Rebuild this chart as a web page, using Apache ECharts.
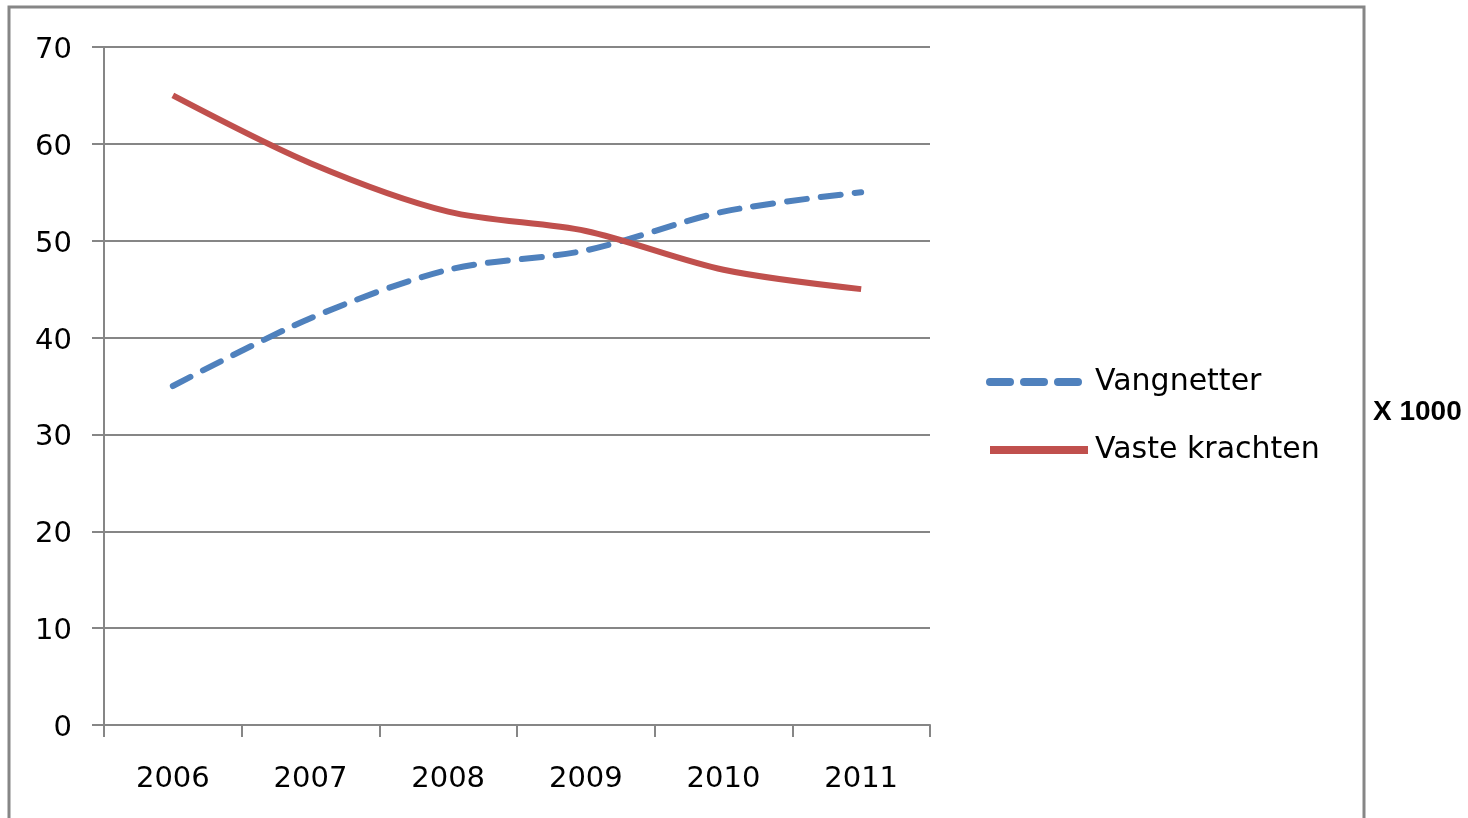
<!DOCTYPE html>
<html>
<head>
<meta charset="utf-8">
<script src="https://cdn.jsdelivr.net/npm/echarts@6/dist/echarts.min.js"></script>
<style>html,body{margin:0;padding:0;background:#fff;}#c{width:1468px;height:818px;}</style>
</head>
<body>
<div id="c"></div>
<script>
var categories = ['2006', '2007', '2008', '2009', '2010', '2011'];
var vangnetter = [35, 42, 47, 49, 53, 55];
var vasteKrachten = [65, 58, 53, 51, 47, 45];
var yTicks = {min: 0, max: 70, interval: 10};

var gray = '#868686';
var font = 'DejaVu Sans';
var chart = echarts.init(document.getElementById('c'));
chart.setOption({
  animation: false,
  backgroundColor: '#fff',
  grid: {left: 104, right: 538, top: 47, bottom: 93},
  graphic: [
    {type: 'rect', shape: {x: 9, y: 7, width: 1355, height: 840},
     style: {fill: 'none', stroke: gray, lineWidth: 3}},
    {type: 'text', left: 1373, top: 398,
     style: {text: 'X 1000', font: 'bold 28px "Liberation Sans"', fill: '#000'}}
  ],
  legend: {
    orient: 'vertical', left: 981, top: 362,
    icon: 'inherit',
    itemWidth: 98, itemHeight: 32, itemGap: 38,
    lineStyle: {width: 8},
    itemStyle: {color: 'rgba(0,0,0,0)', borderWidth: 0, opacity: 0},
    textStyle: {fontFamily: font, fontSize: 30, color: '#000', padding: [4, 0, 0, 2]},
    data: ['Vangnetter', 'Vaste krachten']
  },
  xAxis: {
    type: 'category', data: categories, boundaryGap: true,
    axisLine: {lineStyle: {color: gray, width: 2}},
    axisTick: {show: true, length: 12, lineStyle: {color: gray, width: 2}},
    axisLabel: {color: '#000', fontFamily: font, fontSize: 29, margin: 40}
  },
  yAxis: {
    type: 'value', min: yTicks.min, max: yTicks.max, interval: yTicks.interval,
    axisLine: {show: true, lineStyle: {color: gray, width: 2}},
    axisTick: {show: true, length: 12, lineStyle: {color: gray, width: 2}},
    splitLine: {lineStyle: {color: gray, width: 2}},
    axisLabel: {color: '#000', fontFamily: font, fontSize: 29, margin: 32,
      formatter: '{v|{value}}',
      rich: {v: {fontFamily: font, fontSize: 29, color: '#000', padding: [7, 0, 0, 0]}}}
  },
  series: [
    {name: 'Vangnetter', type: 'line', data: vangnetter, smooth: 0.3, symbol: 'none',
     itemStyle: {color: '#4F81BD'},
     lineStyle: {color: '#4F81BD', width: 6, type: [20, 14], cap: 'round'}},
    {name: 'Vaste krachten', type: 'line', data: vasteKrachten, smooth: 0.3, symbol: 'none',
     itemStyle: {color: '#C0504D'},
     lineStyle: {color: '#C0504D', width: 6}}
  ]
});
</script>
</body>
</html>
